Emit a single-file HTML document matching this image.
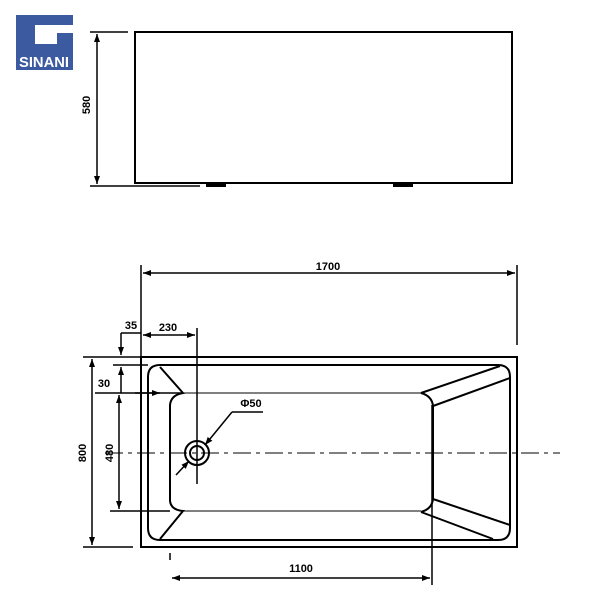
<!DOCTYPE html>
<html><head><style>body{margin:0;background:#fff}svg{display:block}</style></head><body>
<svg width="600" height="600" viewBox="0 0 600 600" xmlns="http://www.w3.org/2000/svg" font-family="Liberation Sans, sans-serif">
<defs><marker id="a" markerWidth="8" markerHeight="6" refX="8" refY="3" orient="auto-start-reverse" markerUnits="userSpaceOnUse"><path d="M0,0 L8,3 L0,6z" fill="#000"/></marker></defs>
<!-- logo -->
<rect x="16" y="15" width="57" height="55" fill="#3c5aa0"/>
<path d="M35,25 H73 V33 H57 V44 H35 Z" fill="#fff"/>
<text x="44" y="67" font-size="15" font-weight="bold" fill="#fff" text-anchor="middle" textLength="50" lengthAdjust="spacingAndGlyphs">SINANI</text>
<g stroke="#000" fill="none" stroke-width="2">
<!-- top view -->
<rect x="135" y="32" width="377" height="151"/>
<line x1="90" y1="32" x2="128" y2="32" stroke-width="1.5"/>
<line x1="90" y1="186" x2="200" y2="186" stroke-width="1.5"/>
<line x1="97" y1="34" x2="97" y2="184" stroke-width="1.5" marker-start="url(#a)" marker-end="url(#a)"/>
<rect x="207" y="183" width="18" height="3" fill="#000"/>
<rect x="394" y="183" width="18" height="3" fill="#000"/>
<!-- plan -->
<rect x="141" y="357" width="376" height="190"/>
<path d="M160,365 H498 Q510,365 510,377 V528 Q510,540 498,540 H160 Q148,540 148,528 V377 Q148,365 160,365Z"/>
<path d="M160,367 L183,393 Q171,395 170,405 V501 Q171,510 183,511 L160,539" />
<line x1="183" y1="393" x2="421" y2="393" stroke-width="1"/>
<line x1="183" y1="511" x2="421" y2="511" stroke-width="1"/>
<path d="M421,393 Q432,396 433,406 V499 Q432,509 421,512"/>
<line x1="421" y1="393" x2="500" y2="366"/>
<line x1="433" y1="406" x2="510" y2="378"/>
<line x1="421" y1="512" x2="493" y2="539"/>
<line x1="433" y1="499" x2="510" y2="525"/>
<line x1="105" y1="453" x2="560" y2="453" stroke-width="1" stroke-dasharray="18,5,4,5"/>
<circle cx="197" cy="453" r="12"/><circle cx="197" cy="453" r="7"/>
<line x1="197" y1="328" x2="197" y2="484" stroke-width="1.5"/>
<!-- dims -->
<g stroke-width="1.5">
<line x1="141" y1="265" x2="141" y2="357"/>
<line x1="517" y1="265" x2="517" y2="345"/>
<line x1="143" y1="273" x2="515" y2="273" marker-start="url(#a)" marker-end="url(#a)"/>
<line x1="121" y1="333" x2="141" y2="333"/>
<line x1="143" y1="335" x2="195" y2="335" marker-start="url(#a)" marker-end="url(#a)"/>
<line x1="121" y1="333" x2="121" y2="355" marker-end="url(#a)"/>
<line x1="121" y1="367" x2="121" y2="393" marker-start="url(#a)"/>
<line x1="83" y1="357" x2="141" y2="357"/>
<line x1="83" y1="547" x2="133" y2="547"/>
<line x1="113" y1="365" x2="148" y2="365"/>
<line x1="110" y1="511" x2="170" y2="511"/>
<line x1="95" y1="393" x2="183" y2="393"/>
<line x1="135" y1="393" x2="160" y2="393" marker-end="url(#a)"/>
<line x1="119" y1="395" x2="119" y2="509" marker-start="url(#a)" marker-end="url(#a)"/>
<line x1="92" y1="359" x2="92" y2="545" marker-start="url(#a)" marker-end="url(#a)"/>
<line x1="432" y1="405" x2="432" y2="585"/>
<line x1="170" y1="553" x2="170" y2="560"/>
<line x1="172" y1="578" x2="430" y2="578" marker-start="url(#a)" marker-end="url(#a)"/>
<line x1="176" y1="475" x2="189" y2="461" marker-end="url(#a)"/>
<line x1="205" y1="445" x2="232" y2="412" marker-start="url(#a)"/>
<line x1="232" y1="412" x2="263" y2="412"/>
</g>
</g>
<g font-size="11" font-weight="bold" fill="#000">
<text x="328" y="270" text-anchor="middle">1700</text>
<text x="131" y="329" text-anchor="middle">35</text>
<text x="168" y="331" text-anchor="middle">230</text>
<text x="104" y="387" text-anchor="middle">30</text>
<text x="251" y="407" text-anchor="middle">Φ50</text>
<text x="301" y="572" text-anchor="middle">1100</text>
<text transform="translate(90,105) rotate(-90)" text-anchor="middle">580</text>
<text transform="translate(86,453) rotate(-90)" text-anchor="middle">800</text>
<text transform="translate(113,453) rotate(-90)" text-anchor="middle">480</text>
</g>
</svg>
</body></html>
